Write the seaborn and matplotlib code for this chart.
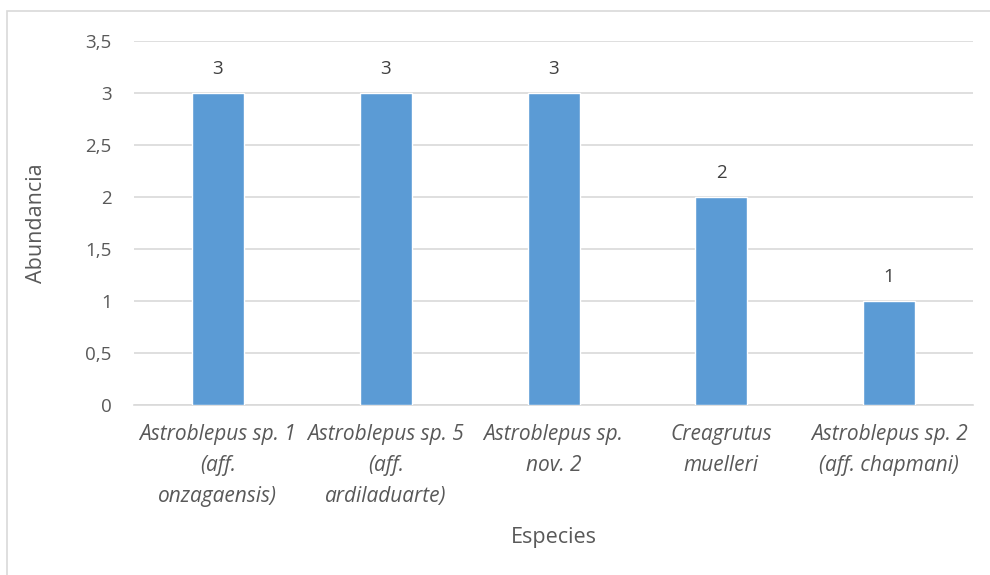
import matplotlib
matplotlib.use('Agg')
import matplotlib.pyplot as plt
import seaborn as sns
import pandas as pd

# Species and abundance values
especies = ['Astroblepus sp. 1\n(aff.\nonzagaensis)',
            'Astroblepus sp. 5\n(aff.\nardiladuarte)',
            'Astroblepus sp.\nnov. 2',
            'Creagrutus\nmuelleri',
            'Astroblepus sp. 2\n(aff. chapmani)']
abundancia = [3, 3, 3, 2, 1]
yticks = [0, 0.5, 1, 1.5, 2, 2.5, 3, 3.5]
ytick_labels = ['0', '0,5', '1', '1,5', '2', '2,5', '3', '3,5']

df = pd.DataFrame({'Especies': especies, 'Abundancia': abundancia})

sns.set_style('white')
plt.rcParams['font.family'] = ['Open Sans', 'DejaVu Sans']
text_color = '#595959'
grid_color = '#D9D9D9'

fig = plt.figure(figsize=(9.9, 5.75), dpi=100)
ax = fig.add_axes([0.1354, 0.2957, 0.8475, 0.633])

sns.barplot(data=df, x='Especies', y='Abundancia', color='#5B9BD5',
            width=0.31, saturation=1, ax=ax, zorder=3)

ax.set_ylim(0, 3.5)
ax.set_yticks(yticks)
ax.set_yticklabels(ytick_labels, fontsize=13.5, color=text_color)
ax.yaxis.grid(True, color=grid_color, linewidth=1.2, zorder=0)
ax.set_axisbelow(True)
ax.tick_params(axis='both', length=0)
ax.tick_params(axis='y', pad=16)
ax.tick_params(axis='x', pad=14)
for lbl in ax.get_xticklabels():
    lbl.set_fontstyle('italic')
    lbl.set_fontsize(15)
    lbl.set_color(text_color)
    lbl.set_linespacing(1.62)
    lbl.set_multialignment('center')

for side in ['top', 'right', 'left']:
    ax.spines[side].set_visible(False)
ax.spines['bottom'].set_color(grid_color)
ax.spines['bottom'].set_linewidth(1.2)

# Data labels
for p, v in zip(ax.patches, abundancia):
    ax.annotate(str(v), (p.get_x() + p.get_width() / 2, p.get_height()),
                xytext=(0, 11), textcoords='offset points',
                ha='center', va='bottom', fontsize=13.5, color='#404040')

ax.set_xlabel('Especies', fontsize=15.5, color=text_color, labelpad=14)
ax.set_ylabel('Abundancia', fontsize=15.5, color=text_color, labelpad=28)

# Chart border
border = plt.Rectangle((7 / 990, -0.1), 1.2, 1 - 11 / 575 + 0.1,
                       transform=fig.transFigure, fill=False,
                       edgecolor=grid_color, linewidth=1.2)
fig.patches.append(border)

fig.savefig('out.png', dpi=100)
